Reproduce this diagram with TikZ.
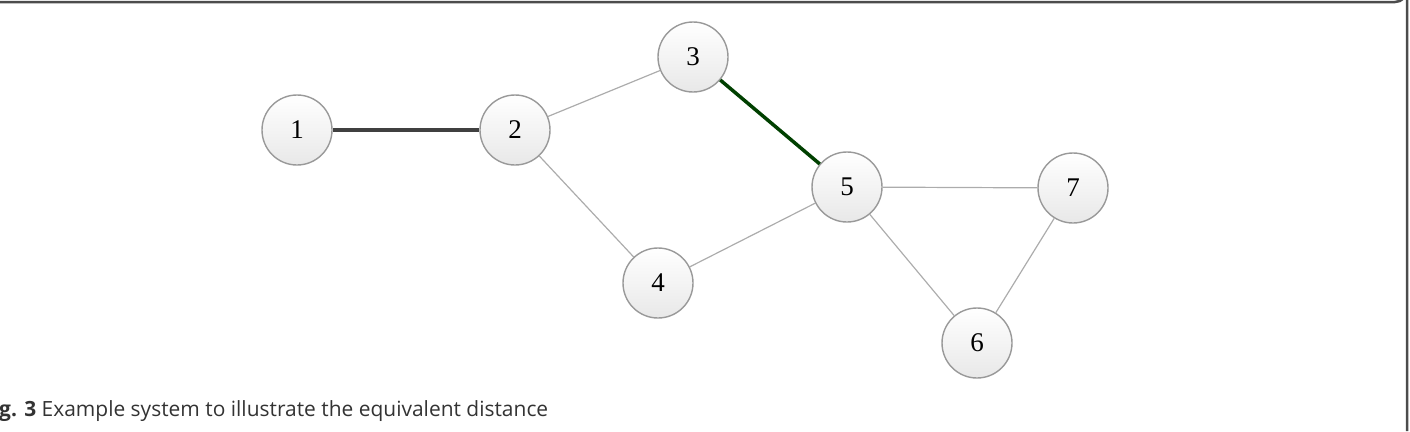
\documentclass[tikz,border=0pt]{standalone}
\usepackage{fontspec}
\setmainfont{Liberation Serif}
\newfontfamily\capfont{Open Sans}
\begin{document}
\begin{tikzpicture}[x=1pt,y=-1pt,
  vertex/.style={circle, draw=gray!80, line width=1.4pt, top color=white, bottom color=gray!18,
    minimum size=70pt, inner sep=0pt, font=\fontsize{27}{27}\selectfont},
  thin edge/.style={draw=gray!65, line width=1.2pt},
  heavy edge/.style={draw=black!75, line width=3.5pt},
  green edge/.style={draw=green!25!black, line width=3.5pt}]
\useasboundingbox (0,0) rectangle (1410,431);
\draw[line width=2.5pt, draw=black!70] (-5,2) -- (1395,2) arc[start angle=90, end angle=0, radius=12] -- (1407,431);
\node[vertex] (n1) at (297,130) {1};
\node[vertex] (n2) at (515,130) {2};
\node[vertex] (n3) at (693,57) {3};
\node[vertex] (n4) at (658,283) {4};
\node[vertex] (n5) at (847,187) {5};
\node[vertex] (n6) at (977,343) {6};
\node[vertex] (n7) at (1073,188) {7};
\draw[heavy edge] (n1) -- (n2);
\draw[green edge] (n3) -- (n5);
\draw[thin edge] (n2) -- (n3);
\draw[thin edge] (n2) -- (n4);
\draw[thin edge] (n4) -- (n5);
\draw[thin edge] (n5) -- (n7);
\draw[thin edge] (n5) -- (n6);
\draw[thin edge] (n6) -- (n7);
\node[anchor=base west, inner sep=0pt, font=\capfont\fontsize{20}{20}\selectfont, text=black!80] (cap) at (-1,416) {\resizebox{549pt}{!}{\textbf{g. 3} Example system to illustrate the equivalent distance}};
\end{tikzpicture}
\end{document}
